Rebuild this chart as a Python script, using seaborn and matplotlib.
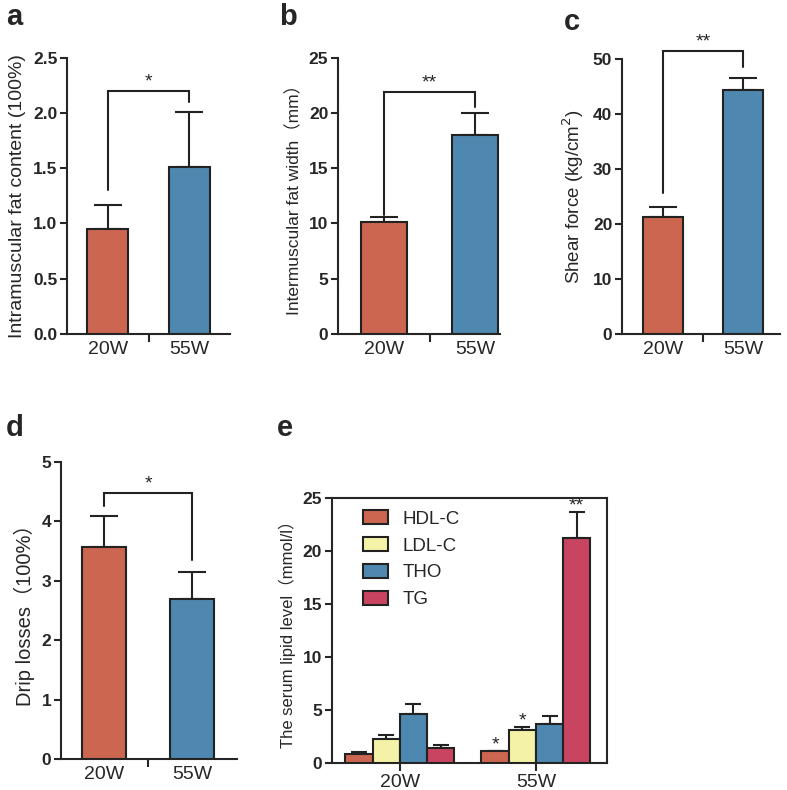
import numpy as np
import pandas as pd
import matplotlib
matplotlib.use("Agg")
import matplotlib.pyplot as plt
import seaborn as sns

sns.set_style("ticks")
plt.rcParams['font.family'] = ['Liberation Sans', 'Noto Sans CJK SC', 'DejaVu Sans']

# ---- data ----
groups = ["20W", "55W"]

fat_content = [0.95, 1.51]
fat_content_err = [0.22, 0.50]

fat_width = [10.1, 18.0]
fat_width_err = [0.45, 2.0]

shear_force = [21.3, 44.3]
shear_force_err = [1.8, 2.3]

drip_loss = [3.56, 2.70]
drip_loss_err = [0.53, 0.44]

lipids = ["HDL-C", "LDL-C", "THO", "TG"]
lipid_20w = [0.79, 2.24, 4.64, 1.42]
lipid_20w_err = [0.25, 0.41, 0.88, 0.25]
lipid_55w = [1.10, 3.12, 3.66, 21.26]
lipid_55w_err = [0.05, 0.23, 0.76, 2.49]
lipid_stars_55w = ["*", "*", "", "**"]

RED = "#CC6650"
BLUE = "#4E88B0"
YELLOW = "#F4F2A6"
CRIMSON = "#C84460"
LW = 1.5

W, H = 787, 790
fig = plt.figure(figsize=(W / 100, H / 100), dpi=100)


def make_ax(left, right, top, bottom):
    return fig.add_axes([left / W, 1 - bottom / H, (right - left) / W, (bottom - top) / H])


def style_axis(ax, ylim, yticks, yfmt, mid_tick=True):
    ax.set_ylim(*ylim)
    ax.set_yticks(yticks)
    ax.set_yticklabels([yfmt.format(t) for t in yticks], fontweight='bold', fontsize=12.5)
    ax.set_xticks([0, 1])
    ax.set_xticklabels(groups, fontsize=14)
    if mid_tick:
        ax.tick_params(axis='x', which='major', length=0, pad=5)
        ax.set_xticks([0.5], minor=True)
        ax.tick_params(axis='x', which='minor', length=6, width=LW, direction='out')
    else:
        ax.tick_params(axis='x', which='major', length=6, width=LW, pad=2)
    ax.tick_params(axis='y', length=5, width=LW, pad=2)
    for s in ax.spines.values():
        s.set_linewidth(LW)
    ax.set_xlabel("")


def two_bar(ax, vals, errs, xlim):
    df = pd.DataFrame({"group": groups, "value": vals})
    sns.barplot(data=df, x="group", y="value", hue="group", palette=[RED, BLUE],
                saturation=1, width=0.5, edgecolor="#222222", linewidth=LW,
                errorbar=None, legend=False, ax=ax, zorder=3)
    ax.errorbar([0, 1], vals, yerr=[np.zeros(2), errs], fmt='none', ecolor="#222222",
                elinewidth=LW, capsize=10, capthick=LW, zorder=2)
    ax.set_xlim(*xlim)
    sns.despine(ax=ax)


def bracket(ax, y, yl, yr, text):
    ax.plot([0, 0, 1, 1], [yl, y, y, yr], color="#222222", lw=LW, clip_on=False,
            solid_joinstyle='miter')
    ax.text(0.5, y, text, ha='center', va='bottom', fontsize=14, clip_on=False)


def letter(x, y, s):
    fig.text(x / W, 1 - y / H, s, fontsize=21, fontweight='bold', va='top', ha='left')


# ---- a ----
ax = make_ax(67, 230, 57.7, 334)
two_bar(ax, fat_content, fat_content_err, (-0.5, 1.5))
style_axis(ax, (0, 2.5), [0, 0.5, 1.0, 1.5, 2.0, 2.5], "{:.1f}")
ax.set_ylabel("Intramuscular fat content (100%)", fontsize=14, labelpad=5)
bracket(ax, 2.2, 1.3, 2.1, "*")
letter(6, 3, "a")

# ---- b ----
ax = make_ax(338, 500, 57.7, 334)
two_bar(ax, fat_width, fat_width_err, (-0.5, 1.27))
style_axis(ax, (0, 25), [0, 5, 10, 15, 20, 25], "{:.0f}")
ax.set_ylabel("Intermuscular fat width（mm）", fontsize=12.5, labelpad=5)
bracket(ax, 21.9, 10.8, 20.5, "**")
letter(279, 3, "b")

# ---- c ----
ax = make_ax(622, 780, 59, 334)
two_bar(ax, shear_force, shear_force_err, (-0.51, 1.46))
style_axis(ax, (0, 50), [0, 10, 20, 30, 40, 50], "{:.0f}")
ax.set_ylabel("Shear force (kg/cm$^2$)", fontsize=13.5, labelpad=5)
bracket(ax, 51.5, 25.7, 48.6, "**")
letter(564, 8, "c")

# ---- d ----
ax = make_ax(61, 237, 461.7, 759.3)
two_bar(ax, drip_loss, drip_loss_err, (-0.49, 1.51))
style_axis(ax, (0, 5), [0, 1, 2, 3, 4, 5], "{:.0f}")
ax.set_ylabel("Drip losses（100%）", fontsize=14.5, labelpad=5)
bracket(ax, 4.48, 4.25, 3.35, "*")
letter(6, 414, "d")

# ---- e ----
ax = make_ax(331.7, 606.7, 498.3, 762.7)
lip = pd.DataFrame({
    "group": [g for g in groups for _ in lipids],
    "lipid": lipids * 2,
    "value": lipid_20w + lipid_55w,
})
sns.barplot(data=lip, x="group", y="value", hue="lipid", hue_order=lipids,
            palette=[RED, YELLOW, BLUE, CRIMSON], saturation=1, width=0.8,
            edgecolor="#222222", linewidth=LW, errorbar=None, ax=ax, zorder=3)
offs = np.array([-0.3, -0.1, 0.1, 0.3])
for gi, (vals, errs) in enumerate([(lipid_20w, lipid_20w_err), (lipid_55w, lipid_55w_err)]):
    ax.errorbar(gi + offs, vals, yerr=[np.zeros(4), errs], fmt='none', ecolor="#222222",
                elinewidth=LW, capsize=6, capthick=LW, zorder=2)
for xo, v, e, s in zip(offs, lipid_55w, lipid_55w_err, lipid_stars_55w):
    if s:
        ax.text(1 + xo, v + e - 0.25, s, ha='center', va='bottom', fontsize=14)
ax.set_xlim(-0.5, 1.52)
style_axis(ax, (0, 25), [0, 5, 10, 15, 20, 25], "{:.0f}", mid_tick=False)
ax.set_ylabel("The serum lipid level（mmol/l）", fontsize=12, labelpad=5)
leg = ax.legend(loc='upper left', bbox_to_anchor=(0.07, 1.0), frameon=False,
                fontsize=13.5, handlelength=1.35, handleheight=0.75, labelspacing=0.5,
                handletextpad=0.75, borderaxespad=0.25)
for h in leg.legend_handles:
    h.set_edgecolor("#222222")
    h.set_linewidth(LW)
letter(277, 414, "e")

fig.savefig("out.png", dpi=100)
